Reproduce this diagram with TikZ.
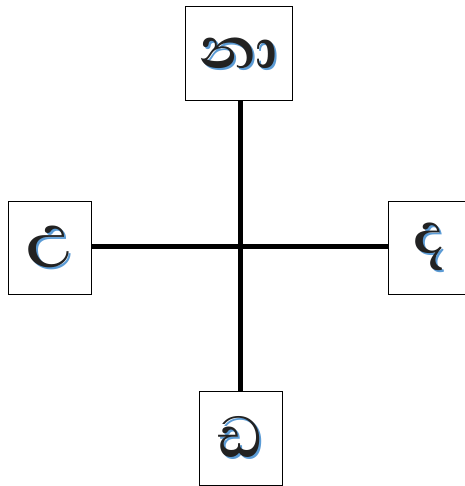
\documentclass[tikz,border=0pt]{standalone}
\usepackage{fontspec}
\newfontfamily\sifont[Script=Sinhala]{Abhaya Libre}
\definecolor{shblue}{RGB}{91,155,213}
\definecolor{inkc}{RGB}{34,34,34}
\newcommand\shtext[1]{\rlap{\kern2pt\raisebox{-2pt}{\textcolor{shblue}{#1}}}\textcolor{inkc}{#1}}
\begin{document}
\begin{tikzpicture}[x=1pt,y=-1pt,
  glyphbox/.style={draw=black,line width=1pt,fill=white,inner sep=0pt,
    font=\sifont\bfseries\fontsize{74}{78}\selectfont},
  crossline/.style={line width=5pt,draw=black}]
\useasboundingbox[fill=white] (0,0) rectangle (464,486);
\coordinate (c) at (240,246);
\node[glyphbox,minimum width=107pt,minimum height=94pt] (top) at (238.5,54) {\shtext{නා}};
\node[glyphbox,minimum width=83pt,minimum height=93pt] (left) at (49.5,247.5) {\shtext{උ}};
\node[glyphbox,minimum width=83pt,minimum height=93pt] (right) at (429.5,247.5) {\shtext{ද}};
\node[glyphbox,minimum width=83pt,minimum height=94pt] (bottom) at (240.5,438) {\shtext{ඩ}};
\draw[crossline] (c |- top.south) -- (c |- bottom.north);
\draw[crossline] (left.east |- c) -- (right.west |- c);
\end{tikzpicture}
\end{document}
